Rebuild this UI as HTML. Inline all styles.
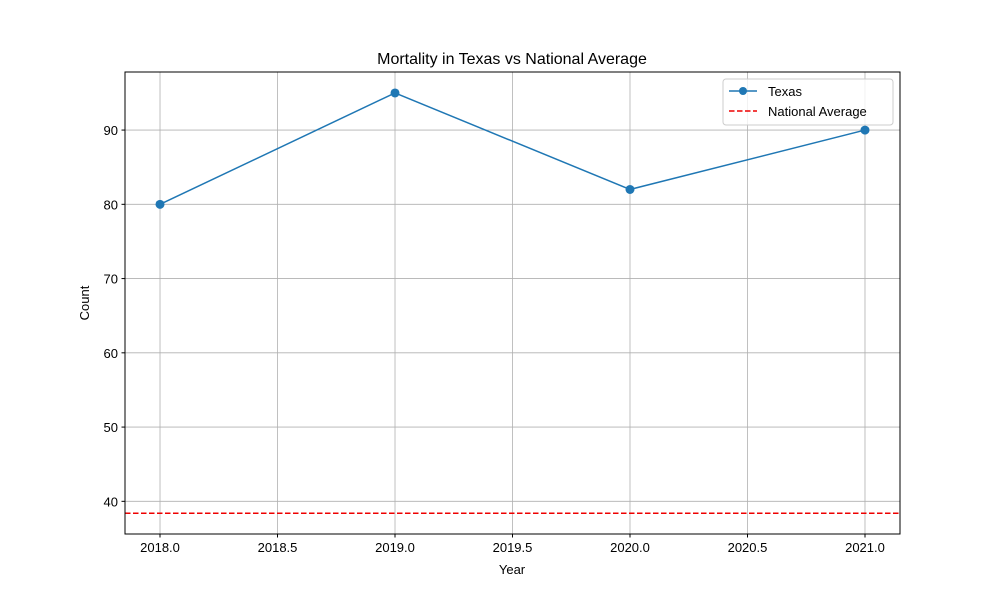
<!DOCTYPE html>
<html>
<head>
<meta charset="utf-8">
<style>
body{margin:0;background:#fff;}
svg{display:block;font-family:"Liberation Sans",sans-serif;}
</style>
</head>
<body>
<svg id="chart" width="1000" height="600" xmlns="http://www.w3.org/2000/svg">
<rect width="1000" height="600" fill="#fff"/>
<text x="512" y="64" text-anchor="middle" font-size="16">Mortality in Texas vs National Average</text>
<g id="grid"></g>
<g id="axes"></g>
<g id="series"></g>
<rect x="125" y="72" width="775" height="462" fill="none" stroke="#000" stroke-width="1"/>
<text x="512" y="574" text-anchor="middle" font-size="13">Year</text>
<text x="89" y="303" text-anchor="middle" font-size="13" transform="rotate(-90 89 303)">Count</text>
<g>
<rect x="723" y="79" width="170" height="46" rx="3" fill="#fff" fill-opacity="0.8" stroke="#ccc"/>
<g>
<line x1="729" y1="91" x2="757" y2="91" stroke="#1f77b4" stroke-width="1.5"/>
<circle cx="743" cy="91" r="4" fill="#1f77b4"/>
<text x="768" y="96" font-size="13">Texas</text>
</g>
<g>
<line x1="729" y1="111" x2="757" y2="111" stroke="#e00" stroke-width="1.5" stroke-dasharray="5.5,2.5"/>
<text x="768" y="116" font-size="13">National Average</text>
</g>
</g>
</svg>
<script>
const years = [2018, 2019, 2020, 2021];
const texas = [80, 95, 82, 90];
const nationalAverage = 38.4;
const xTicks = [2018.0, 2018.5, 2019.0, 2019.5, 2020.0, 2020.5, 2021.0];
const yTicks = [40, 50, 60, 70, 80, 90];

const NS = "http://www.w3.org/2000/svg";
const X0 = 125, X1 = 900, Y0 = 72, Y1 = 534;
const xMin = 2017.851, xMax = 2021.149, yMin = 35.6, yMax = 97.82;
const xs = v => X0 + (v - xMin) / (xMax - xMin) * (X1 - X0);
const ys = v => Y1 - (v - yMin) / (yMax - yMin) * (Y1 - Y0);
function mk(tag, attrs, parent) {
  const e = document.createElementNS(NS, tag);
  for (const k in attrs) e.setAttribute(k, attrs[k]);
  parent.appendChild(e);
  return e;
}
const grid = document.getElementById('grid');
const axes = document.getElementById('axes');
const series = document.getElementById('series');

xTicks.forEach(t => {
  const x = xs(t);
  const g = mk('line', {x1: x, x2: x, y1: Y0, y2: Y1, stroke: '#b0b0b0', 'stroke-width': 0.8}, grid);
  
  
  mk('line', {x1: x, x2: x, y1: Y1, y2: Y1 + 3.5, stroke: '#000'}, axes);
  const l = mk('text', {x: x, y: Y1 + 18, 'text-anchor': 'middle', 'font-size': 13}, axes);
  l.textContent = t.toFixed(1);
  
  
});
yTicks.forEach(t => {
  const y = ys(t);
  const g = mk('line', {x1: X0, x2: X1, y1: y, y2: y, stroke: '#b0b0b0', 'stroke-width': 0.8}, grid);
  
  
  mk('line', {x1: X0 - 3.5, x2: X0, y1: y, y2: y, stroke: '#000'}, axes);
  const l = mk('text', {x: X0 - 7, y: y + 5, 'text-anchor': 'end', 'font-size': 13}, axes);
  l.textContent = t;
  
  
});

const na = mk('line', {x1: X0, x2: X1, y1: ys(nationalAverage), y2: ys(nationalAverage), stroke: '#e00', 'stroke-width': 1.5, 'stroke-dasharray': '5.5,2.5'}, series);



const pts = years.map((y, i) => xs(y) + ',' + ys(texas[i])).join(' ');
const pl = mk('polyline', {points: pts, fill: 'none', stroke: '#1f77b4', 'stroke-width': 1.5}, series);


years.forEach((y, i) => {
  const c = mk('circle', {cx: xs(y), cy: ys(texas[i]), r: 4.5, fill: '#1f77b4'}, series);
  
  
});
</script>
</body>
</html>
